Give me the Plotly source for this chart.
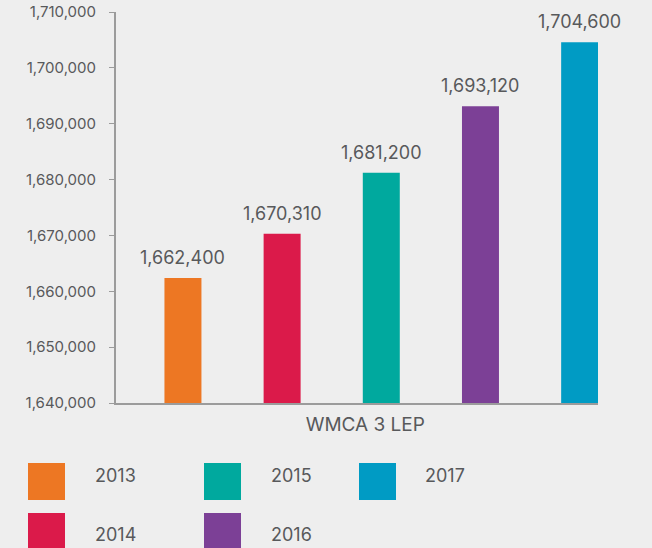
import plotly.graph_objects as go

# ---- data ----
categories = ["WMCA 3 LEP"]
years = ["2013", "2014", "2015", "2016", "2017"]
values = [1662400, 1670310, 1681200, 1693120, 1704600]
colors = ["#ED7723", "#DB1A4A", "#00A99E", "#7C4096", "#009BC4"]
y_tick_values = [1640000, 1650000, 1660000, 1670000, 1680000, 1690000, 1700000, 1710000]

# ---- layout constants (pixels) ----
W, H = 652, 548
L, R, T, B = 116, 54, 12, 145
PW = W - L - R
PH = H - T - B
TEXT = "#58595B"
AXIS = "#9B9B9B"
FONT = "Inter"
X_RANGE = [-0.535, 0.437]
N = len(years)
SLOT_PX = PW / (X_RANGE[1] - X_RANGE[0]) / N   # width of one bar slot in the group

def px_x(p):
    return (p - L) / PW

def px_y(p):
    return (H - B - p) / PH

fig = go.Figure()
annotations = []
for i, (yr, v, c) in enumerate(zip(years, values, colors)):
    fig.add_trace(go.Bar(
        x=categories, y=[v], name=yr,
        marker=dict(color=c, line=dict(width=0)),
        showlegend=False,
    ))
    # value label above each bar
    annotations.append(dict(
        x=categories[0], y=v, xref="x", yref="y",
        xshift=(i - (N - 1) / 2) * SLOT_PX, yshift=8,
        xanchor="center", yanchor="bottom", showarrow=False,
        text=f"{v:,}", font=dict(size=18, color=TEXT, family=FONT),
    ))

# custom legend: large square swatches in a 3-column, 2-row grid (column-major)
sw_x = [28, 204, 359]
tx_x = [93, 269, 423]
sw_top = [463, 513]
tx_y = [475, 534]
SW = 37
shapes = []
for i, (yr, c) in enumerate(zip(years, colors)):
    col, row = i // 2, i % 2
    shapes.append(dict(type="rect", xref="paper", yref="paper",
                       x0=px_x(sw_x[col]), x1=px_x(sw_x[col] + SW),
                       y0=px_y(sw_top[row] + SW), y1=px_y(sw_top[row]),
                       fillcolor=c, line=dict(width=0), layer="above"))
    annotations.append(dict(xref="paper", yref="paper",
                            x=px_x(tx_x[col]), y=px_y(tx_y[row]),
                            xanchor="left", yanchor="middle", showarrow=False,
                            text=yr, font=dict(size=18, color=TEXT, family=FONT)))

fig.update_layout(
    width=W, height=H,
    margin=dict(l=L, r=R, t=T, b=B, pad=0, autoexpand=False),
    paper_bgcolor="#EEEEEE", plot_bgcolor="#EEEEEE",
    barmode="group", bargap=0, bargroupgap=0.627,
    font=dict(family=FONT, color=TEXT),
    shapes=shapes, annotations=annotations,
    showlegend=False,
)
fig.update_xaxes(
    type="category", range=X_RANGE, automargin=False,
    showline=True, linecolor=AXIS, linewidth=2,
    showgrid=False, zeroline=False, ticks="",
    tickfont=dict(size=19, color=TEXT, family=FONT),
    ticklabelshift=-16, ticklabelstandoff=3,
)
fig.update_yaxes(
    range=[1640000, 1710000], automargin=False,
    tickvals=y_tick_values, tickformat=",",
    showline=True, linecolor=AXIS, linewidth=2,
    ticks="outside", ticklen=5, tickcolor=AXIS, tickwidth=1,
    showgrid=False, zeroline=False,
    tickfont=dict(size=15, color=TEXT, family=FONT),
    ticklabelstandoff=10,
)

fig.write_html(
    "out.html",
    config={"displayModeBar": False},
    post_script="document.body.style.margin='0';document.body.style.background='#EEEEEE';",
)
